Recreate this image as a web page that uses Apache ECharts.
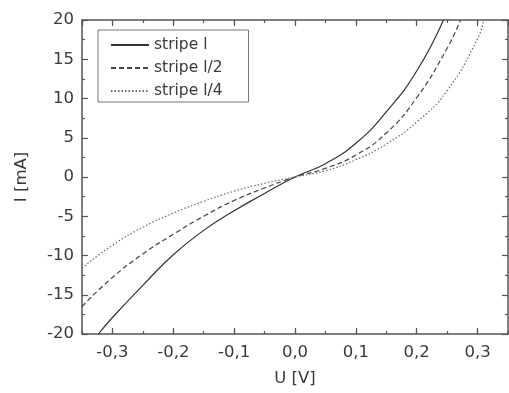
<!DOCTYPE html>
<html>
<head>
<meta charset="utf-8">
<script src="https://cdn.jsdelivr.net/npm/echarts@6/dist/echarts.min.js"></script>
<style>html,body{margin:0;padding:0;background:#fff}#c{width:509px;height:393px}</style>
</head>
<body>
<div id="c"></div>
<script>
// Data (U in V, I in mA)
const SERIES_NAMES = ['stripe l', 'stripe l/2', 'stripe l/4'];
const U_SOLID = [-0.323, -0.3, -0.25, -0.2, -0.15, -0.1, -0.05, 0, 0.05, 0.1, 0.15, 0.2, 0.244];
const I_SOLID = [-20, -17.9, -13.8, -9.9, -6.8, -4.3, -2.1, 0, 1.7, 4.3, 8.3, 13.5, 20];
const U_HALF = [-0.35, -0.3, -0.25, -0.2, -0.15, -0.1, -0.05, 0, 0.05, 0.1, 0.15, 0.2, 0.25, 0.272];
const I_HALF = [-16.5, -12.8, -9.8, -7.3, -5.0, -3.0, -1.4, 0, 1.1, 2.8, 5.6, 10.1, 16.4, 20];
const U_QUART = [-0.35, -0.3, -0.25, -0.2, -0.15, -0.1, -0.05, 0, 0.05, 0.1, 0.15, 0.2, 0.25, 0.3, 0.31];
const I_QUART = [-11.6, -8.7, -6.4, -4.6, -3.1, -1.8, -0.8, 0, 0.8, 2.2, 4.2, 7.0, 11.0, 17.6, 20];
const X_MIN = -0.35, X_MAX = 0.35;
const Y_MIN = -20, Y_MAX = 20, Y_STEP = 5;

const pairs = (u, i) => u.map((v, k) => [v, i[k]]);
const FONT = 'DejaVu Sans';
const AX = '#555';
const TXT = '#3a3a3a';
const fmtX = v => { let s = (Math.abs(v) < 1e-9 ? 0 : v).toFixed(1); return s.replace('.', ','); };

const baseAxisLine = { show: true, onZero: false, lineStyle: { color: AX, width: 1.5 } };
const noLine = { show: false, onZero: false };

const chart = echarts.init(document.getElementById('c'), null, { renderer: 'canvas' });
chart.setOption({
  animation: false,
  backgroundColor: '#fff',
  grid: { left: 82, right: 1, top: 20, bottom: 59, containLabel: false },
  legend: {
    show: true,
    left: 98, top: 30,
    orient: 'vertical',
    itemWidth: 38, itemHeight: 14, itemGap: 7,
    padding: [7, 26, 3, 12],
    borderColor: '#777', borderWidth: 1,
    itemStyle: { opacity: 0 },
    textStyle: { fontFamily: FONT, fontSize: 15.5, color: TXT, lineHeight: 15 },
    data: SERIES_NAMES
  },
  xAxis: [
    { type: 'value', position: 'bottom', min: X_MIN, max: X_MAX, splitNumber: 7,
      axisLine: baseAxisLine, splitLine: { show: false },
      axisTick: { inside: true, length: 6, lineStyle: { color: AX, width: 1.2 } },
      axisLabel: { showMinLabel: false, showMaxLabel: false, formatter: fmtX,
        fontFamily: FONT, fontSize: 16.5, color: TXT, margin: 10 },
      name: 'U [V]', nameLocation: 'middle', nameGap: 36,
      nameTextStyle: { fontFamily: FONT, fontSize: 16.5, color: TXT } },
    { type: 'value', position: 'bottom', min: X_MIN, max: X_MAX, interval: 0.05,
      axisLine: noLine, splitLine: { show: false },
      axisTick: { inside: true, length: 3, lineStyle: { color: AX, width: 1.2 } },
      axisLabel: { show: false } },
    { type: 'value', position: 'top', min: X_MIN, max: X_MAX, splitNumber: 7,
      axisLine: baseAxisLine, splitLine: { show: false },
      axisTick: { inside: true, length: 6, lineStyle: { color: AX, width: 1.2 } },
      axisLabel: { show: false } },
    { type: 'value', position: 'top', min: X_MIN, max: X_MAX, interval: 0.05,
      axisLine: noLine, splitLine: { show: false },
      axisTick: { inside: true, length: 3, lineStyle: { color: AX, width: 1.2 } },
      axisLabel: { show: false } }
  ],
  yAxis: [
    { type: 'value', position: 'left', min: Y_MIN, max: Y_MAX, interval: Y_STEP,
      axisLine: baseAxisLine, splitLine: { show: false },
      axisTick: { inside: true, length: 6, lineStyle: { color: AX, width: 1.2 } },
      minorTick: { show: true, splitNumber: 2, length: 3, lineStyle: { color: AX, width: 1.2 } },
      minorSplitLine: { show: false },
      axisLabel: { fontFamily: FONT, fontSize: 16.5, color: TXT, margin: 8 },
      name: 'I [mA]', nameLocation: 'middle', nameGap: 52, nameRotate: 90,
      nameTextStyle: { fontFamily: FONT, fontSize: 16.5, color: TXT } },
    { type: 'value', position: 'right', min: Y_MIN, max: Y_MAX, interval: Y_STEP,
      axisLine: baseAxisLine, splitLine: { show: false },
      axisTick: { inside: true, length: 6, lineStyle: { color: AX, width: 1.2 } },
      minorTick: { show: true, splitNumber: 2, length: 3, lineStyle: { color: AX, width: 1.2 } },
      minorSplitLine: { show: false },
      axisLabel: { show: false } }
  ],
  series: [
    { name: SERIES_NAMES[0], type: 'line', xAxisIndex: 0, yAxisIndex: 0, smooth: 0.5,
      showSymbol: false, symbol: 'none', clip: true,
      lineStyle: { color: '#333', width: 1.2, type: 'solid' }, itemStyle: { color: '#333' },
      data: pairs(U_SOLID, I_SOLID) },
    { name: SERIES_NAMES[1], type: 'line', xAxisIndex: 0, yAxisIndex: 0, smooth: 0.5,
      showSymbol: false, symbol: 'none', clip: true,
      lineStyle: { color: '#444', width: 1.2, type: [5, 3] }, itemStyle: { color: '#444' },
      data: pairs(U_HALF, I_HALF) },
    { name: SERIES_NAMES[2], type: 'line', xAxisIndex: 0, yAxisIndex: 0, smooth: 0.5,
      showSymbol: false, symbol: 'none', clip: true,
      lineStyle: { color: '#666', width: 1.2, type: [1.5, 2] }, itemStyle: { color: '#666' },
      data: pairs(U_QUART, I_QUART) }
  ]
});
</script>
</body>
</html>
